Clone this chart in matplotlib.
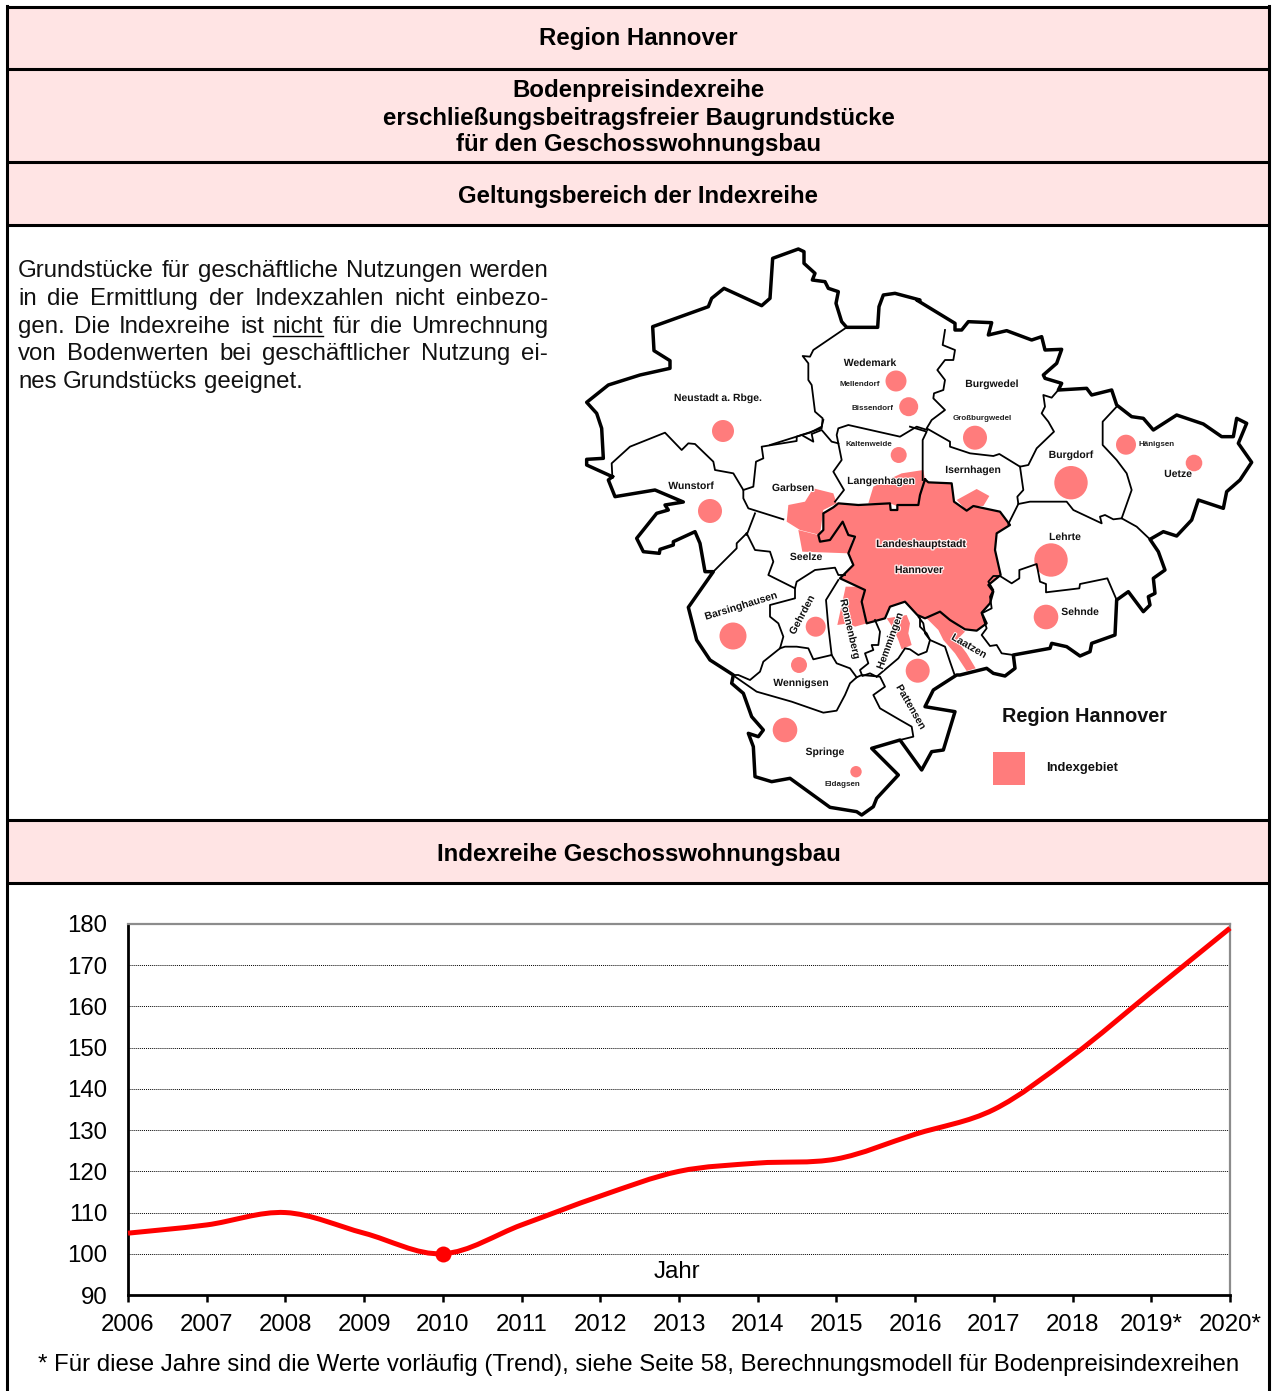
import numpy as np
import matplotlib
matplotlib.use("Agg")
import matplotlib.pyplot as plt
import matplotlib.patheffects as pe
from matplotlib.path import Path
from matplotlib.patches import PathPatch, Polygon, Circle, Rectangle

plt.rcParams["font.family"] = ["Liberation Sans", "DejaVu Sans"]

# chart data
years = [2006, 2007, 2008, 2009, 2010, 2011, 2012, 2013, 2014, 2015, 2016, 2017, 2018, 2019, 2020]
index_values = [105, 107, 110, 105, 100, 107, 114, 120, 122, 123, 129, 135, 148, 163.5, 179]
year_labels = ["2006", "2007", "2008", "2009", "2010", "2011", "2012", "2013", "2014", "2015",
               "2016", "2017", "2018", "2019*", "2020*"]
y_ticks = [90, 100, 110, 120, 130, 140, 150, 160, 170, 180]
base_year = 2010
base_value = 100

headers = [("Region Hannover", 39), ("Geltungsbereich der Indexreihe", 197), ("Indexreihe Geschosswohnungsbau", 855)]
header_lines = [("Bodenpreisindexreihe", 91), ("erschließungsbeitragsfreier Baugrundstücke", 119), ("für den Geschosswohnungsbau", 145)]
body_lines = ["Grundstücke für geschäftliche Nutzungen werden",
              "in die Ermittlung der Indexzahlen nicht einbezo-",
              "gen. Die Indexreihe ist nicht für die Umrechnung",
              "von Bodenwerten bei geschäftlicher Nutzung ei-",
              "nes Grundstücks geeignet."]
body_y = [277, 305, 333, 360, 388]
footnote = "* Für diese Jahre sind die Werte vorläufig (Trend), siehe Seite 58, Berechnungsmodell für Bodenpreisindexreihen"

# map outlines, traced in 3x crops of the picture: (x0, y0) is the crop corner
Z1 = (580, 240)
Z2 = (910, 300)
Z3 = (680, 520)
Z7 = (960, 540)
Z8 = (770, 420)
Z10 = (830, 590)
Z12 = (610, 500)


def px(origin, coords):
    return [(origin[0] + x / 3, origin[1] + y / 3) for x, y in coords]


outer = (px(Z1, [(97, 710), (20, 675), (20, 658), (70, 655), (65, 565), (50, 520), (20, 487), (85, 435), (180, 405),
                 (270, 385), (270, 362), (222, 332), (218, 260), (385, 200), (395, 175), (432, 145), (545, 197),
                 (570, 175), (578, 55), (655, 27), (672, 35), (672, 70), (705, 100), (697, 120), (735, 125), (745, 145),
                 (775, 155), (768, 190), (785, 245), (800, 262), (893, 262), (897, 200), (910, 165), (945, 160), (1020, 180)])
         + px(Z2, [(20, 0), (135, 70), (135, 90), (155, 90), (175, 65), (245, 68), (235, 105), (290, 92), (365, 120), (395, 110),
                   (405, 150), (455, 148), (440, 190), (400, 225), (405, 235), (455, 250), (445, 270), (530, 265), (545, 285),
                   (605, 270), (620, 315), (665, 350), (700, 355), (730, 390), (800, 345), (880, 372), (935, 410), (970, 410),
                   (980, 355), (1010, 370), (985, 430), (1025, 487), (990, 540), (950, 575), (940, 625), (865, 600), (845, 660),
                   (800, 708), (760, 695), (720, 718), (745, 755), (765, 810)])
         + px(Z7, [(580, 115), (585, 160), (565, 170), (570, 195), (550, 215), (505, 155), (470, 180), (465, 285), (395, 310),
                   (390, 335), (360, 348), (320, 320), (275, 310), (270, 325), (160, 345), (165, 385), (135, 408), (100, 400),
                   (80, 385), (0, 405)])
         + px(Z3, [(830, 465), (760, 510), (735, 560), (825, 575), (790, 690), (755, 695), (725, 750), (660, 660), (575, 685),
                   (655, 765), (590, 835), (580, 860), (545, 885), (530, 875), (450, 862), (330, 775), (275, 785), (225, 770),
                   (220, 680), (205, 640), (235, 650), (250, 630), (215, 590), (190, 520), (155, 490), (160, 465), (90, 420),
                   (50, 360), (25, 262), (100, 155), (75, 155), (60, 70), (45, 35)])
         + px(Z12, [(190, 125), (190, 135), (150, 148), (148, 160), (100, 155), (80, 115), (140, 40), (175, 30), (165, 15), (220, 6)])
         + px(Z1, [(225, 750), (105, 770), (85, 720), (97, 710)]))

hannover = (px(Z8, [(465, 178), (475, 187), (545, 190), (552, 245), (590, 272), (610, 258), (690, 275), (720, 315), (680, 340),
                    (675, 390), (692, 465), (655, 495), (670, 515)])
            + px(Z10, [(480, 40), (455, 68), (470, 100), (440, 122), (405, 118), (360, 90), (330, 65), (285, 85), (262, 75),
                       (225, 35), (180, 50), (165, 85), (110, 100)])
            + px(Z8, [(275, 545), (285, 510), (210, 475), (250, 435), (235, 400), (255, 350), (235, 345), (218, 305), (180, 360),
                      (150, 365), (145, 345), (160, 330), (160, 280), (190, 262), (205, 250), (265, 255), (360, 250), (362, 270),
                      (382, 270), (382, 255), (445, 255), (450, 225)]))

pink_areas = [
    px(Z8, [(55, 255), (105, 245), (130, 205), (190, 220), (200, 250), (160, 270), (150, 345), (90, 330), (50, 305)]),
    px(Z8, [(85, 330), (145, 345), (218, 305), (250, 350), (235, 400), (97, 395)]),
    px(Z8, [(295, 250), (310, 200), (395, 160), (460, 150), (465, 180), (445, 255), (380, 258), (360, 250)]),
    px(Z8, [(560, 240), (620, 207), (658, 228), (640, 258), (610, 258), (590, 272)]),
    px(Z10, [(47, -10), (105, -10), (95, 50), (110, 100), (75, 110), (55, 100), (22, 105)]),
    px(Z10, [(170, 85), (230, 75), (240, 100), (235, 130), (245, 165), (215, 178), (205, 150), (190, 115)]),
    px(Z10, [(290, 85), (330, 65), (360, 90), (405, 125), (380, 150), (410, 190), (437, 235), (410, 243), (375, 190), (340, 150), (325, 120)]),
]

thin_lines = [
    px(Z1, [(800, 262), (700, 330), (690, 350), (668, 348), (685, 370), (685, 420), (695, 435), (705, 515), (728, 535), (725, 565),
            (650, 590), (650, 603), (545, 620), (550, 655), (528, 665), (520, 740), (490, 750), (460, 700), (405, 690), (400, 665),
            (345, 612), (325, 610), (305, 630), (255, 578), (150, 620), (95, 670), (97, 710)]),
    px(Z1, [(490, 750), (490, 775), (505, 805), (610, 838)]),
    px(Z1, [(525, 820), (500, 885)]) + px(Z3, [(200, 40), (170, 70), (170, 85), (100, 155)]),
    px(Z3, [(200, 40), (225, 90), (270, 95), (280, 125), (265, 165), (345, 205), (350, 185), (405, 150), (465, 143), (475, 165), (495, 165)]),
    px(Z3, [(345, 205), (345, 235), (270, 255), (270, 290), (295, 310), (310, 350), (300, 385), (250, 425), (240, 455), (210, 480), (175, 465), (160, 465)]),
    px(Z3, [(475, 180), (438, 240), (445, 320), (455, 405), (400, 418), (385, 385), (350, 380), (315, 380), (300, 385)]),
    px(Z3, [(455, 405), (470, 430), (510, 445), (530, 472)]),
    px(Z3, [(165, 470), (230, 515), (335, 545), (430, 578), (470, 572), (495, 525), (510, 490), (530, 472), (545, 465), (600, 470),
            (615, 500), (580, 525), (600, 565), (660, 600), (695, 620), (700, 650), (660, 660)]),
    px(Z10, [(135, 90), (150, 125), (145, 165), (125, 165), (130, 180), (105, 190), (115, 220), (90, 240), (97, 258), (120, 250), (140, 260)]),
    px(Z10, [(140, 260), (205, 205), (225, 175), (240, 178), (265, 195), (290, 185), (300, 150), (285, 130), (280, 100), (265, 80)]),
    px(Z10, [(270, 85), (270, 110), (290, 130), (300, 150), (345, 170), (360, 215), (375, 258)]),
    px(Z2, [(105, 90), (98, 135), (135, 150), (130, 180), (105, 180), (82, 210), (105, 240), (100, 270), (72, 280), (70, 295), (105, 330),
            (65, 360), (50, 385), (120, 425), (120, 440), (180, 460), (250, 468), (268, 462), (330, 500), (355, 495), (380, 445), (432, 395),
            (415, 365), (395, 340), (405, 320), (400, 285), (425, 293), (445, 270)]),
    px(Z2, [(0, 380), (50, 395), (38, 420), (38, 540)]),
    px(Z2, [(330, 500), (340, 570), (322, 590), (325, 612), (295, 672)]),
    px(Z2, [(325, 612), (360, 605), (470, 605), (490, 630), (575, 670), (570, 650), (585, 645), (610, 658), (635, 655), (665, 570), (650, 520),
            (620, 480), (578, 435), (578, 365), (620, 320)]),
    px(Z2, [(635, 655), (680, 680), (720, 718)]),
    px(Z8, [(0, 75), (95, 45), (120, 38), (155, 20), (160, 0)]),
    px(Z8, [(95, 45), (130, 65), (125, 42), (155, 30), (185, 65), (205, 70), (215, 120), (190, 155), (222, 210), (195, 245)]),
    px(Z8, [(205, 70), (200, 45), (205, 25), (235, 15), (390, 50), (440, 20), (472, 30)]),
    px(Z7, [(160, 345), (125, 340), (110, 315), (90, 318), (65, 285), (80, 265), (65, 220), (95, 205), (90, 170), (100, 150), (85, 125), (100, 108),
            (120, 108), (155, 130), (178, 115), (178, 90), (230, 72), (240, 125), (258, 132), (258, 157), (358, 145), (360, 132), (442, 115), (470, 180)]),
]

# x, y, radius of the markers on the map
circles = [(723, 431, 11), (710, 511, 12), (896, 381, 10.5), (908.7, 406.7, 9.5), (898.7, 455, 8), (975, 437.7, 12), (1071, 482.7, 16.7),
           (1126, 444.7, 10), (1194, 463, 8.3), (1051, 560, 16.7), (1046, 617, 12.3), (815.7, 626.7, 10), (733, 636, 13.5), (799, 665, 8),
           (785, 730, 12.3), (856, 771.7, 5.7), (917.7, 670.7, 12)]

# text, x, y, rotation
map_labels = [("Neustadt a. Rbge.", 718, 398, 0), ("Wedemark", 870, 363, 0), ("Burgwedel", 992, 384, 0), ("Garbsen", 793, 488, 0),
              ("Langenhagen", 881, 481, 0), ("Isernhagen", 973, 470, 0), ("Burgdorf", 1071, 455, 0), ("Uetze", 1178, 474, 0),
              ("Wunstorf", 691, 486, 0), ("Lehrte", 1065, 537, 0), ("Seelze", 806, 557, 0), ("Sehnde", 1080, 612, 0),
              ("Barsinghausen", 741, 606, 17), ("Gehrden", 802, 615, 62), ("Ronnenberg", 850, 629, -77), ("Hemmingen", 890, 641, 70),
              ("Laatzen", 969, 646, -30), ("Pattensen", 911, 707, -60), ("Wennigsen", 801, 683, 0), ("Springe", 825, 752, 0)]
small_labels = [("Mellendorf", 860, 385), ("Bissendorf", 872, 409), ("Kaltenweide", 869, 444), ("Großburgwedel", 982, 418), ("Hänigsen", 1157, 444), ("Eldagsen", 842, 785)]
city_labels = [("Landeshauptstadt", 921, 544), ("Hannover", 919, 570)]

W, H = 1272, 1391
PINK = "#FFE4E4"
MAP_RED = "#FF7C7C"
LW3 = 2.2
FS = 17.25

fig = plt.figure(figsize=(W / 100, H / 100), dpi=100)
ax = fig.add_axes([0, 0, 1, 1])
ax.set_xlim(0, W)
ax.set_ylim(H, 0)
ax.axis("off")

# table frame
for y0, y1 in [(7, 69), (69, 162), (162, 225), (820, 883)]:
    ax.add_patch(Rectangle((7, y0), 1262, y1 - y0, facecolor=PINK, edgecolor="none"))
for y in [7, 69, 162, 225, 820, 883]:
    ax.plot([7, 1269], [y, y], color="black", lw=LW3, solid_capstyle="butt")
ax.plot([7, 7], [6, H], color="black", lw=LW3)
ax.plot([1269, 1269], [6, H], color="black", lw=LW3)

for text, y in headers + header_lines:
    ax.text(638.5, y, text, ha="center", va="center", fontsize=FS, fontweight="bold", color="black")

# justified paragraph
renderer = fig.canvas.get_renderer()
for i, line in enumerate(body_lines):
    words = line.split(" ")
    items = [ax.text(18, body_y[i], w, fontsize=FS, va="baseline", color="#111111") for w in words]
    widths = [t.get_window_extent(renderer).width for t in items]
    space = (548 - 18 - sum(widths)) / (len(words) - 1) if i < len(body_lines) - 1 else 6.5
    x = 18
    for t, w, word in zip(items, widths, words):
        t.set_x(x)
        if word == "nicht" and i == 2:
            ax.plot([x, x + w], [body_y[i] + 2.5, body_y[i] + 2.5], color="black", lw=1)
        x += w + space

# map
for area in pink_areas + [hannover]:
    ax.add_patch(Polygon(area, closed=True, facecolor=MAP_RED, edgecolor="none", zorder=2))
for cx, cy, r in circles:
    ax.add_patch(Circle((cx, cy), r, facecolor=MAP_RED, edgecolor="none", zorder=2))
for line in thin_lines:
    xs, ys = zip(*line)
    ax.plot(xs, ys, color="black", lw=1.3, zorder=3)
xs, ys = zip(*(hannover + hannover[:1]))
ax.plot(xs, ys, color="black", lw=1.6, zorder=3)
xs, ys = zip(*outer)
ax.plot(xs, ys, color="black", lw=2.5, zorder=4)

for text, x, y, rot in map_labels:
    ax.text(x, y, text, fontsize=7.5, fontweight="bold", rotation=rot, ha="center", va="center", color="#111111", zorder=5,
            rotation_mode="anchor", path_effects=[pe.withStroke(linewidth=1.5, foreground="white")])
for text, x, y in small_labels:
    ax.text(x, y, text, fontsize=5.8, fontweight="bold", ha="center", va="center", color="#222222", zorder=5)
for text, x, y in city_labels:
    ax.text(x, y, text, fontsize=7.5, fontweight="bold", ha="center", va="center", color="#111111", zorder=5,
            path_effects=[pe.withStroke(linewidth=2, foreground="#FFECEC")])

ax.text(1085, 717, "Region Hannover", fontsize=14.3, fontweight="bold", ha="center", va="center", color="#111111", zorder=5)
ax.add_patch(Rectangle((993, 752), 32, 33, facecolor=MAP_RED, edgecolor="none", zorder=2))
ax.text(1082, 768, "Indexgebiet", fontsize=9.4, fontweight="bold", ha="center", va="center", color="#111111", zorder=5)

# line chart
left, right, top, bottom = 128, 1230, 924, 1295
ax2 = fig.add_axes([left / W, 1 - bottom / H, (right - left) / W, (bottom - top) / H])
ax2.patch.set_alpha(0)
ax2.set_xlim(years[0], years[-1])
ax2.set_ylim(y_ticks[0], y_ticks[-1])
ax2.set_xticks(years)
ax2.set_xticklabels(year_labels, fontsize=FS)
ax2.set_yticks(y_ticks)
ax2.set_yticklabels([str(v) for v in y_ticks], fontsize=FS)
ax2.tick_params(axis="x", length=5, width=1.8, pad=9, color="black")
ax2.tick_params(axis="y", length=0, pad=15)
ax2.grid(axis="y", color="black", lw=0.7, linestyle=(0, (1, 1)))
ax2.set_axisbelow(True)
ax2.spines["left"].set_linewidth(2.0)
ax2.spines["bottom"].set_linewidth(2.0)
ax2.spines["top"].set_color("#8C8C8C")
ax2.spines["right"].set_color("#8C8C8C")
ax2.spines["top"].set_linewidth(1.6)
ax2.spines["right"].set_linewidth(1.6)

# smoothed line like the spreadsheet does it, through the yearly values
pts = np.column_stack([years, index_values]).astype(float)
verts = [pts[0]]
codes = [Path.MOVETO]
for i in range(len(pts) - 1):
    p0 = pts[max(i - 1, 0)]
    p3 = pts[min(i + 2, len(pts) - 1)]
    verts += [pts[i] + (pts[i + 1] - p0) / 6, pts[i + 1] - (p3 - pts[i]) / 6, pts[i + 1]]
    codes += [Path.CURVE4, Path.CURVE4, Path.CURVE4]
ax2.add_patch(PathPatch(Path(verts, codes), facecolor="none", edgecolor="#FF0000", lw=3.6, clip_on=False, zorder=5))
ax2.plot([base_year], [base_value], "o", color="#FF0000", ms=11.5, mec="none", zorder=6, clip_on=False)

ax.text(677, 1272, "Jahr", fontsize=FS, ha="center", va="center", color="black", zorder=5)
ax.text(638.5, 1365, footnote, fontsize=FS, ha="center", va="center", color="black")

fig.savefig("out.png", dpi=100)
